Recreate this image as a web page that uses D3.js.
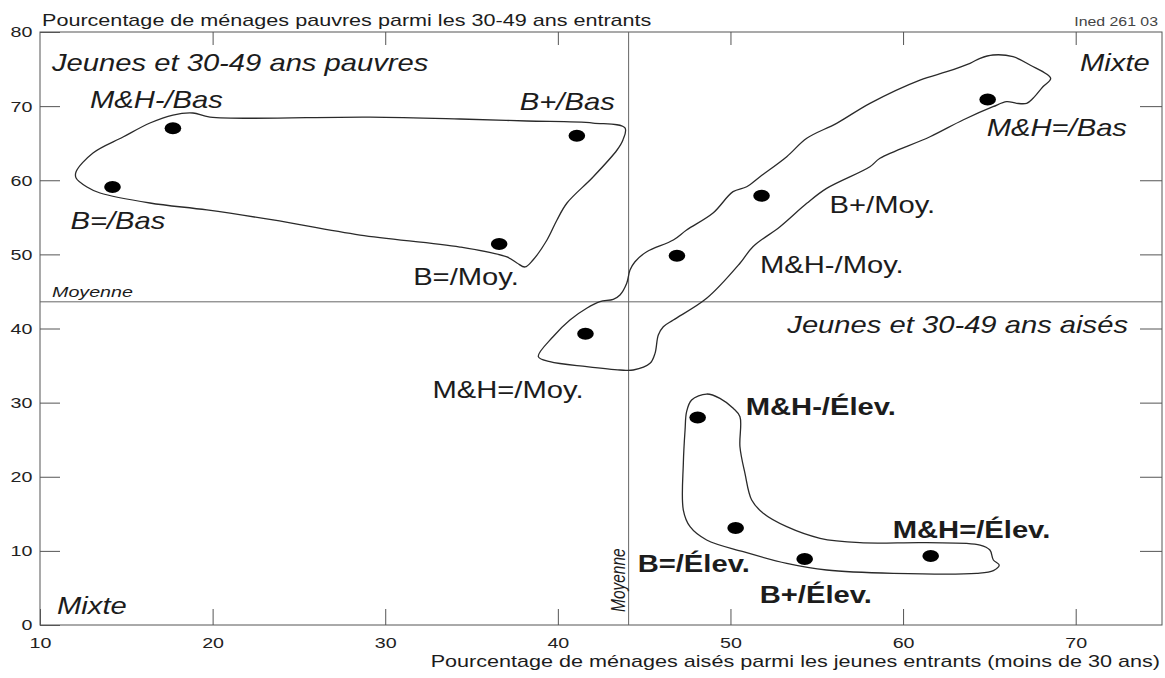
<!DOCTYPE html>
<html>
<head>
<meta charset="utf-8">
<script src="https://cdn.jsdelivr.net/npm/d3@7"></script>
<style>
  body { margin: 0; background: #fff; }
  text { font-family: "Liberation Sans", Arial, sans-serif; fill: #1c1c1c; }
</style>
</head>
<body>
<svg id="chart" width="1165" height="678"></svg>
<script>
// ---- data ----
const xTicks = [10, 20, 30, 40, 50, 60, 70];
const yTicks = [0, 10, 20, 30, 40, 50, 60, 70, 80];
const meanX = 44.1;   // moyenne, aisés
const meanY = 43.6;   // moyenne, pauvres

const pointNames = ['M&H-/Bas', 'B=/Bas', 'B+/Bas', 'B=/Moy.', 'M&H=/Bas', 'B+/Moy.',
  'M&H-/Moy.', 'M&H=/Moy.', 'M&H-/Élev.', 'B=/Élev.', 'B+/Élev.', 'M&H=/Élev.'];
const pointX = [17.7, 14.2, 41.1, 36.6, 64.9, 51.8, 46.9, 41.6, 48.1, 50.3, 54.3, 61.6];
const pointY = [67.0, 59.1, 66.0, 51.4, 70.9, 57.9, 49.8, 39.3, 28.0, 13.1, 8.9, 9.3];

// hand drawn groupings
const blobPoor = [[12.09, 61.15], [13.07, 63.68], [14.81, 65.83], [16.37, 67.72], [17.7, 68.8],
  [18.86, 69.07], [19.85, 68.52], [29.12, 68.52], [34.33, 68.26], [38.21, 67.99], [42.04, 67.72],
  [43.89, 67.05], [43.77, 65.43], [43.43, 64.08], [42.04, 60.44], [40.53, 56.93], [39.95, 54.64],
  [39.37, 51.94], [38.56, 49.24], [38.1, 48.3], [37.63, 48.84], [37.05, 49.65], [34.33, 50.99],
  [28.54, 52.61], [23.5, 54.64], [19.67, 55.99], [16.37, 56.93], [13.48, 58.28], [12.72, 59.09],
  [12.09, 60.31]];
const blobMixed = [[38.87, 36.2], [39.72, 38.89], [40.7, 41.15], [41.67, 42.73], [42.44, 43.62],
  [43.21, 43.94], [43.6, 44.52], [43.99, 46.1], [44.18, 47.89], [44.47, 49.01], [45.15, 50.36],
  [46.69, 51.94], [47.46, 53.29], [48.99, 55.58], [50.15, 58.46], [50.94, 59.13], [51.71, 60.48],
  [53.26, 63.18], [54.42, 65.66], [56.15, 67.68], [58.08, 70.38], [60.98, 73.52], [62.53, 74.64],
  [63.88, 75.78], [64.46, 76.45], [65.21, 76.9], [66.37, 76.67], [67.35, 75.55], [68.55, 73.75],
  [68.1, 72.62], [67.53, 71.06], [67.16, 70.38], [66.58, 70.38], [66.0, 70.6], [65.21, 69.92],
  [63.47, 68.13], [61.56, 65.87], [58.66, 62.96], [58.08, 61.83], [55.57, 58.91], [54.42, 56.89],
  [52.87, 53.73], [51.3, 51.04], [50.55, 48.8], [48.62, 44.07], [46.69, 41.15], [46.11, 40.24],
  [45.82, 39.12], [45.63, 36.65], [45.34, 35.3], [44.37, 34.4], [43.6, 34.4], [41.67, 34.85],
  [39.54, 35.52]];
const blobRich = [[47.46, 28.78], [47.75, 30.35], [48.62, 31.16], [49.39, 30.58], [50.16, 29.23],
  [50.55, 28.1], [50.55, 24.05], [50.84, 20.46], [51.23, 16.86], [51.9, 15.07], [53.26, 13.26],
  [55.19, 11.7], [57.5, 11.1], [61.37, 11.1], [64.46, 10.79], [65.03, 10.12], [65.23, 8.77],
  [65.57, 8.09], [65.23, 7.33], [64.26, 6.97], [59.43, 6.97], [55.57, 7.42], [53.26, 8.32],
  [50.74, 9.89], [48.62, 11.47], [47.66, 13.26], [47.27, 15.51], [47.27, 21.81], [47.37, 26.31]];

// ---- layout ----
const mLeft = 40, mRight = 1162, mTop = 32, mBottom = 625;
const SX = 1.27; // the scanned lettering is wide

// label offsets from each point (px) and font style
const labelPos = {
  'M&H-/Bas':   {dx: -83, dy: -20, st: 'italic'},
  'B=/Bas':     {dx: -42, dy: 42, st: 'italic'},
  'B+/Bas':     {dx: -57, dy: -26, st: 'italic'},
  'B=/Moy.':    {dx: -86, dy: 41, st: 'normal'},
  'M&H=/Bas':   {dx: -1, dy: 37, st: 'italic'},
  'B+/Moy.':    {dx: 68, dy: 17, st: 'normal'},
  'M&H-/Moy.':  {dx: 83, dy: 17, st: 'normal'},
  'M&H=/Moy.':  {dx: -153, dy: 64, st: 'normal'},
  'M&H-/Élev.': {dx: 48, dy: -2, st: 'bold'},
  'B=/Élev.':   {dx: -98, dy: 44, st: 'bold'},
  'B+/Élev.':   {dx: -45, dy: 44, st: 'bold'},
  'M&H=/Élev.': {dx: -38, dy: -18, st: 'bold'}
};

const svg = d3.select('#chart');
const x = d3.scaleLinear().domain([10, 75]).range([mLeft, mRight]);
const y = d3.scaleLinear().domain([0, 80]).range([mBottom, mTop]);

function addText(g, px, py, str, size, opts) {
  opts = opts || {};
  return g.append('text')
    .attr('transform', `translate(${px},${py}) scale(${SX},1)` + (opts.rotate ? ` rotate(${opts.rotate})` : ''))
    .attr('text-anchor', opts.anchor || 'start')
    .style('font-size', size + 'px')
    .style('font-style', opts.italic ? 'italic' : null)
    .style('font-weight', opts.bold ? 'bold' : null)
    .text(str);
}

// frame
svg.append('rect')
  .attr('x', mLeft).attr('y', mTop)
  .attr('width', mRight - mLeft).attr('height', mBottom - mTop)
  .attr('fill', 'none').attr('stroke', '#555').attr('stroke-width', 1);

// axes, ticks pointing inside
function styleAxis(g) {
  g.select('.domain').remove();
  g.selectAll('line').attr('stroke', '#555');
  g.attr('font-family', null).attr('font-size', null);
  g.selectAll('text').style('font-size', '15.5px').style('fill', '#222');
}

svg.append('g')
  .attr('transform', `translate(0,${mBottom})`)
  .call(d3.axisBottom(x).tickValues(xTicks).tickSize(-16).tickSizeOuter(0).tickPadding(12))
  .call(styleAxis)
  .call(g => g.selectAll('text').attr('transform', `scale(${SX},1)`));

svg.append('g')
  .attr('transform', `translate(0,${mTop})`)
  .call(d3.axisTop(x).tickValues(xTicks.slice(1)).tickSize(-13).tickSizeOuter(0).tickFormat(''))
  .call(styleAxis);

svg.append('g')
  .attr('transform', `translate(${mLeft},0)`)
  .call(d3.axisLeft(y).tickValues(yTicks).tickSize(-20).tickSizeOuter(0).tickPadding(6))
  .call(styleAxis)
  .call(g => g.selectAll('text').attr('transform', `scale(${SX},1)`));

svg.append('g')
  .attr('transform', `translate(${mRight},0)`)
  .call(d3.axisRight(y).tickValues(yTicks.slice(1, -1)).tickSize(-22).tickSizeOuter(0).tickFormat(''))
  .call(styleAxis);

// moyenne lines
svg.append('line')
  .attr('x1', mLeft).attr('x2', mRight)
  .attr('y1', y(meanY)).attr('y2', y(meanY))
  .attr('stroke', '#666').attr('stroke-width', 1);
svg.append('line')
  .attr('x1', x(meanX)).attr('x2', x(meanX))
  .attr('y1', mTop).attr('y2', mBottom)
  .attr('stroke', '#666').attr('stroke-width', 1);

addText(svg, mLeft + 12, y(meanY) - 5, 'Moyenne', 15.5, {italic: true});
addText(svg, x(meanX) - 4, mBottom - 13, 'Moyenne', 15.5, {italic: true, rotate: -90});

// groupings
const blobLine = d3.line()
  .x(d => x(d[0])).y(d => y(d[1]))
  .curve(d3.curveCatmullRomClosed.alpha(0.5));

svg.append('g').selectAll('path')
  .data([blobPoor, blobMixed, blobRich])
  .join('path')
  .attr('d', blobLine)
  .attr('fill', 'none')
  .attr('stroke', '#2a2a2a')
  .attr('stroke-width', 1.3);

// points
const pts = pointNames.map((n, i) => ({name: n, x: pointX[i], y: pointY[i]}));
svg.append('g').selectAll('ellipse')
  .data(pts)
  .join('ellipse')
  .attr('cx', d => x(d.x)).attr('cy', d => y(d.y))
  .attr('rx', 8.3).attr('ry', 6)
  .attr('fill', '#000');

const lab = svg.append('g');
pts.forEach(d => {
  const p = labelPos[d.name];
  addText(lab, x(d.x) + p.dx, y(d.y) + p.dy, d.name, 23,
    {italic: p.st === 'italic', bold: p.st === 'bold'});
});

// quadrant names
addText(svg, 52, 71, 'Jeunes et 30-49 ans pauvres', 23, {italic: true});
addText(svg, 1080, 71, 'Mixte', 23, {italic: true});
addText(svg, 1128, 333, 'Jeunes et 30-49 ans aisés', 23, {italic: true, anchor: 'end'});
addText(svg, 57, 614, 'Mixte', 23, {italic: true});

// titles
addText(svg, 42, 26, 'Pourcentage de ménages pauvres parmi les 30-49 ans entrants', 17);
addText(svg, 1158, 26, 'Ined 261 03', 12.5, {anchor: 'end'}).style('fill', '#444');
addText(svg, 1160, 667, 'Pourcentage de ménages aisés parmi les jeunes entrants (moins de 30 ans)', 17, {anchor: 'end'});
</script>
</body>
</html>
